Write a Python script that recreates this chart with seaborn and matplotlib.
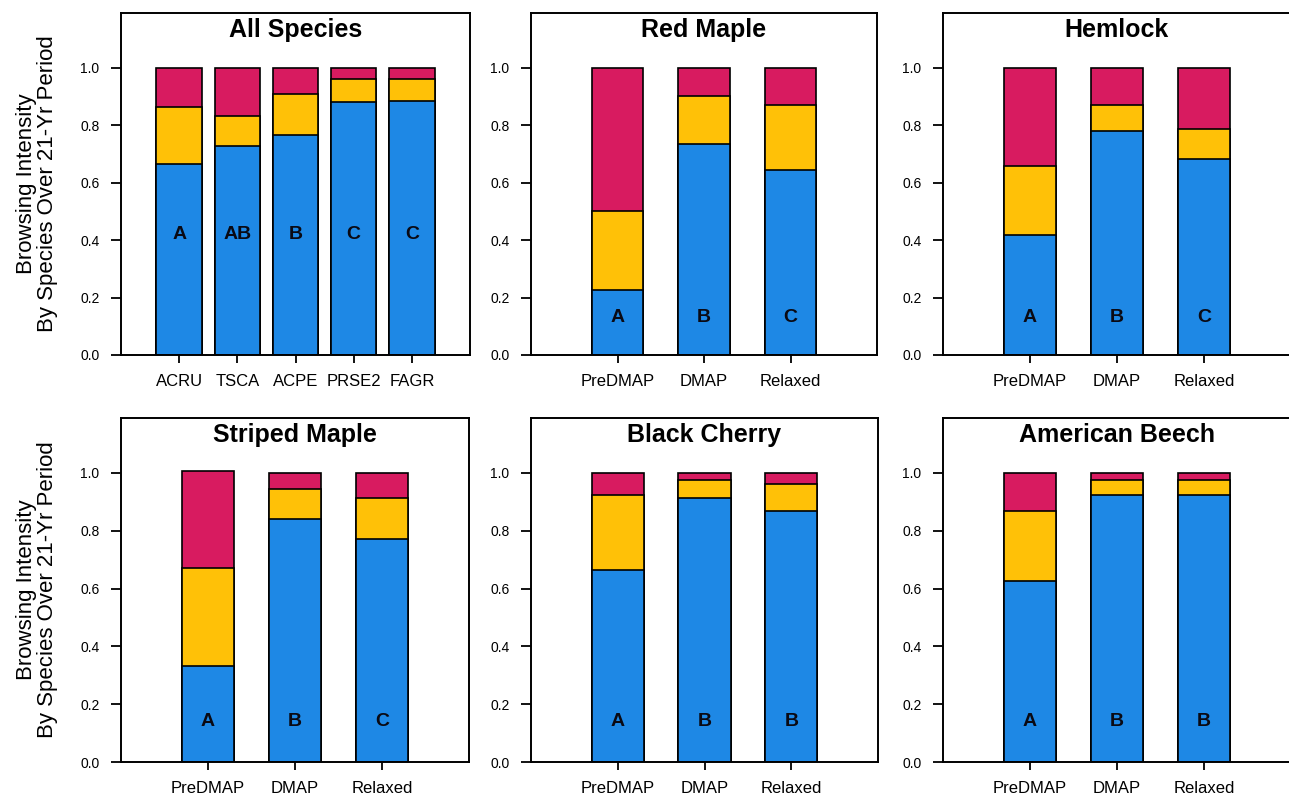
import matplotlib
matplotlib.use("Agg")
import matplotlib.pyplot as plt
import seaborn as sns

# browsing intensity: cumulative heights of the three stacked classes
# low = blue segment top, mid = yellow segment top, top = red segment top
species_codes = ['ACRU', 'TSCA', 'ACPE', 'PRSE2', 'FAGR']
periods = ['PreDMAP', 'DMAP', 'Relaxed']

all_low = [0.665, 0.727, 0.765, 0.879, 0.885]
all_mid = [0.863, 0.833, 0.908, 0.960, 0.960]
all_top = [1.0, 1.0, 1.0, 1.0, 1.0]
all_letters = ['A', 'AB', 'B', 'C', 'C']

redmaple_low = [0.226, 0.734, 0.643]
redmaple_mid = [0.500, 0.900, 0.870]
redmaple_top = [1.0, 1.0, 1.0]

hemlock_low = [0.417, 0.781, 0.683]
hemlock_mid = [0.659, 0.870, 0.788]
hemlock_top = [1.0, 1.0, 1.0]

striped_low = [0.331, 0.839, 0.770]
striped_mid = [0.670, 0.945, 0.914]
striped_top = [1.005, 1.0, 1.0]

cherry_low = [0.663, 0.914, 0.868]
cherry_mid = [0.922, 0.975, 0.960]
cherry_top = [1.0, 1.0, 1.0]

beech_low = [0.625, 0.922, 0.922]
beech_mid = [0.868, 0.975, 0.975]
beech_top = [1.0, 1.0, 1.0]

abc_letters = ['A', 'B', 'C']
abb_letters = ['A', 'B', 'B']

blue = '#1E88E5'
yellow = '#FFC107'
red = '#D81B60'

sns.set_style("ticks")
plt.rcParams['font.family'] = ['Liberation Sans', 'DejaVu Sans']
plt.rcParams['text.color'] = 'black'
plt.rcParams['axes.labelcolor'] = 'black'
plt.rcParams['xtick.color'] = 'black'
plt.rcParams['ytick.color'] = 'black'

fig = plt.figure(figsize=(12.89, 7.95), dpi=100)
W, H = 1289.0, 795.0


def make_ax(left, top, right, bottom):
    return fig.add_axes([left / W, 1 - bottom / H, (right - left) / W, (bottom - top) / H])


panels = [
    # title, categories, low, mid, top, letters, letter y, bar width, box (px)
    ('All Species', species_codes, all_low, all_mid, all_top, all_letters, 0.42, 0.78, (121, 13, 470, 355)),
    ('Red Maple', periods, redmaple_low, redmaple_mid, redmaple_top, abc_letters, 0.13, 0.6, (531, 13, 877, 355)),
    ('Hemlock', periods, hemlock_low, hemlock_mid, hemlock_top, abc_letters, 0.13, 0.6, (943, 13, 1291, 355)),
    ('Striped Maple', periods, striped_low, striped_mid, striped_top, abc_letters, 0.14, 0.6, (121, 418, 469, 762)),
    ('Black Cherry', periods, cherry_low, cherry_mid, cherry_top, abb_letters, 0.14, 0.6, (531, 418, 878, 762)),
    ('American Beech', periods, beech_low, beech_mid, beech_top, abb_letters, 0.14, 0.6, (943, 418, 1291, 762)),
]

for i, (title, cats, low, mid, top, letters, ly, bw, box) in enumerate(panels):
    ax = make_ax(*box)
    for vals, col in [(top, red), (mid, yellow), (low, blue)]:
        sns.barplot(x=cats, y=vals, color=col, width=bw, edgecolor='black',
                    linewidth=1.2, saturation=1, ax=ax)
    for j, lab in enumerate(letters):
        ax.text(j, ly, lab, ha='center', va='center', fontsize=14,
                fontweight='bold', color='#0a0a14')
    ax.set_xlim(-1, len(cats))
    ax.set_ylim(0, 1.19)
    ax.set_yticks([0.0, 0.2, 0.4, 0.6, 0.8, 1.0])
    ax.set_yticklabels(['0.0', '0.2', '0.4', '0.6', '0.8', '1.0'])
    ax.tick_params(axis='y', direction='out', length=7.5, width=1.3, labelsize=10, pad=8)
    ax.tick_params(axis='x', direction='out', length=6, width=1.3, labelsize=12, pad=8)
    for sp in ax.spines.values():
        sp.set_linewidth(1.4)
        sp.set_color('black')
    ax.text(0.5, 0.93, title, transform=ax.transAxes, ha='center', va='baseline',
            fontsize=18, fontweight='bold')
    ax.set_xlabel('')
    if i in (0, 3):
        ax.set_ylabel('Browsing Intensity\nBy Species Over 21-Yr Period',
                      fontsize=16, linespacing=1.0, labelpad=16)
    else:
        ax.set_ylabel('')

fig.savefig('out.png', dpi=100)
